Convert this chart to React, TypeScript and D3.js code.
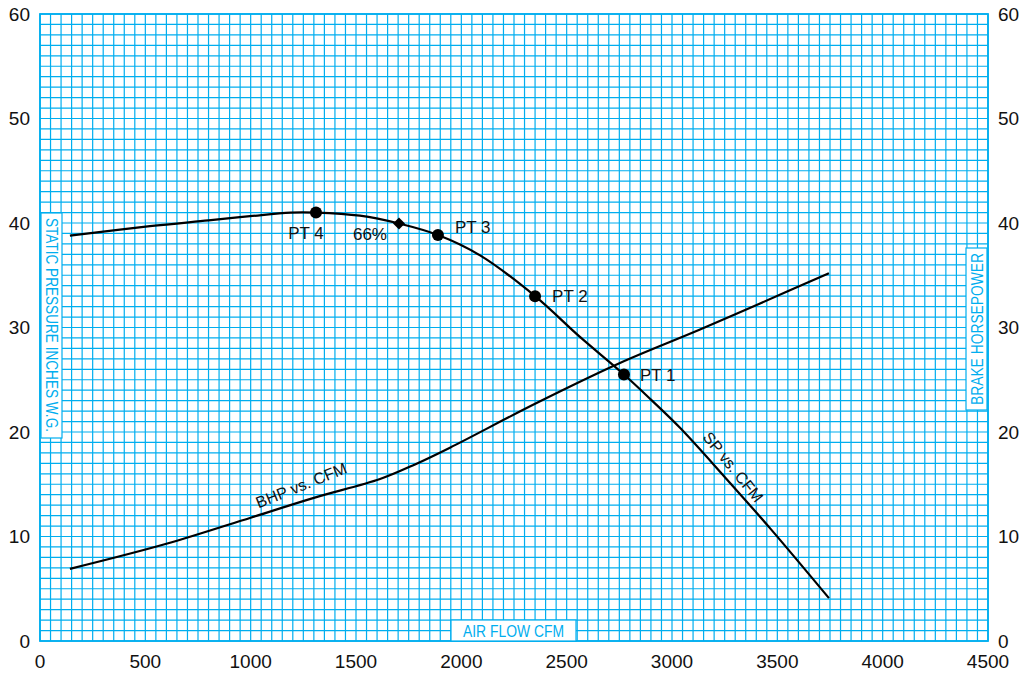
import React from "react";
import * as d3 from "d3";

const spCfm = [142, 522, 800, 997, 1190, 1310, 1519, 1704, 1889, 2089, 2350, 2563, 2772, 2900, 3038, 3250, 3465, 3745];
const spVal = [38.8, 39.7, 40.25, 40.65, 41.0, 41.0, 40.7, 39.95, 38.85, 36.9, 33.0, 29.1, 25.5, 23.1, 20.4, 15.7, 10.8, 4.1];

const bhpCfm = [142, 600, 1000, 1300, 1614, 1780, 1946, 2350, 2753, 3133, 3418, 3745];
const bhpVal = [6.9, 9.3, 11.8, 13.7, 15.5, 16.9, 18.5, 22.7, 26.6, 29.8, 32.3, 35.2];

const ptNames = ["PT 4", "PT 3", "PT 2", "PT 1"];
const ptCfm = [1310, 1889, 2350, 2772];
const ptVal = [41.0, 38.85, 33.0, 25.5];

const effLabel = "66%";
const effCfm = 1704;
const effVal = 39.95;

const xTicks = [0, 500, 1000, 1500, 2000, 2500, 3000, 3500, 4000, 4500];
const yTicks = [0, 10, 20, 30, 40, 50, 60];

const GRID = "#00aeef";
const FONT = "'Liberation Sans Narrow', 'Arial Narrow', 'Liberation Sans', Arial, sans-serif";

export default function App() {
  const W = 1034, H = 674;
  const left = 40, right = 988, top = 14, bottom = 641;
  const x = d3.scaleLinear().domain([0, 4500]).range([left, right]);
  const y = d3.scaleLinear().domain([0, 60]).range([bottom, top]);

  const vGrid = d3.range(0, 4501, 50);
  const hGrid = d3.range(0, 61, 1);

  const line = d3.line<[number, number]>().x(d => x(d[0])).y(d => y(d[1])).curve(d3.curveCatmullRom.alpha(0.5));
  const spPath = line(spCfm.map((c, i) => [c, spVal[i]] as [number, number])) || "";
  const bhpPath = line(bhpCfm.map((c, i) => [c, bhpVal[i]] as [number, number])) || "";

  const ptOffsets: [number, number, string][] = [
    [-10, 26, "middle"],
    [17, -2, "start"],
    [17, 6, "start"],
    [16, 6, "start"],
  ];

  const ex = x(effCfm), ey = y(effVal);
  const dsz = 6;

  return (
    <svg width={W} height={H} style={{ position: "absolute", left: 0, top: 0, background: "#fff" }} fontFamily={FONT}>
      <rect x={0} y={0} width={W} height={H} fill="#fff" />
      {vGrid.map(v => (
        <line key={"v" + v} x1={x(v)} x2={x(v)} y1={top} y2={bottom} stroke={GRID} strokeWidth={1.2} />
      ))}
      {hGrid.map(v => (
        <line key={"h" + v} x1={left} x2={right} y1={y(v)} y2={y(v)} stroke={GRID} strokeWidth={1.2} />
      ))}
      <rect x={left} y={top} width={right - left} height={bottom - top} fill="none" stroke={GRID} strokeWidth={1.8} />

      {/* axis title boxes */}
      <rect x={left + 1} y={213} width={21} height={225} fill="#fff" stroke={GRID} strokeWidth={1.2} />
      <text transform={`translate(${left + 5.5},${325}) rotate(90)`} textAnchor="middle" fill={GRID} fontSize={16}
        textLength={214} lengthAdjust="spacingAndGlyphs">STATIC PRESSURE INCHES W.G.</text>

      <rect x={right - 22} y={248} width={21} height={162} fill="#fff" stroke={GRID} strokeWidth={1.2} />
      <text transform={`translate(${right - 5.5},${329}) rotate(-90)`} textAnchor="middle" fill={GRID} fontSize={16}
        textLength={152} lengthAdjust="spacingAndGlyphs">BRAKE HORSEPOWER</text>

      <rect x={451} y={bottom - 21} width={125} height={21} fill="#fff" stroke={GRID} strokeWidth={1.2} />
      <text x={513.5} y={bottom - 4.5} textAnchor="middle" fill={GRID} fontSize={16}
        textLength={101} lengthAdjust="spacingAndGlyphs">AIR FLOW CFM</text>

      {/* tick labels */}
      {yTicks.map(t => (
        <text key={"yl" + t} x={30} y={y(t)} dy="0.36em" textAnchor="end" fontSize={19} fill="#111">{t}</text>
      ))}
      {yTicks.map(t => (
        <text key={"yr" + t} x={998} y={y(t)} dy="0.36em" textAnchor="start" fontSize={19} fill="#111">{t}</text>
      ))}
      {xTicks.map(t => (
        <text key={"xt" + t} x={x(t)} y={661} dy="0.36em" textAnchor="middle" fontSize={19} fill="#111">{t}</text>
      ))}

      {/* curves */}
      <path d={spPath} fill="none" stroke="#000" strokeWidth={2.2} />
      <path d={bhpPath} fill="none" stroke="#000" strokeWidth={2.2} />

      {/* points */}
      {ptCfm.map((c, i) => (
        <g key={"pt" + i}>
          <circle cx={x(c)} cy={y(ptVal[i])} r={6} fill="#000" />
          <text x={x(c) + ptOffsets[i][0]} y={y(ptVal[i]) + ptOffsets[i][1]} textAnchor={ptOffsets[i][2] as any}
            fontSize={17} fill="#111">{ptNames[i]}</text>
        </g>
      ))}
      <path d={`M${ex},${ey - dsz} L${ex + dsz},${ey} L${ex},${ey + dsz} L${ex - dsz},${ey} Z`} fill="#000" />
      <text x={ex - 29} y={ey + 16} textAnchor="middle" fontSize={17} fill="#111">{effLabel}</text>

      {/* curve labels */}
      <text transform={`translate(${x(1250)},${y(14.4)}) rotate(-22)`} textAnchor="middle" fontSize={16} fill="#111">BHP vs. CFM</text>
      <text transform={`translate(${x(3270)},${y(16.3)}) rotate(51)`} textAnchor="middle" fontSize={16} fill="#111">SP vs. CFM</text>
    </svg>
  );
}
